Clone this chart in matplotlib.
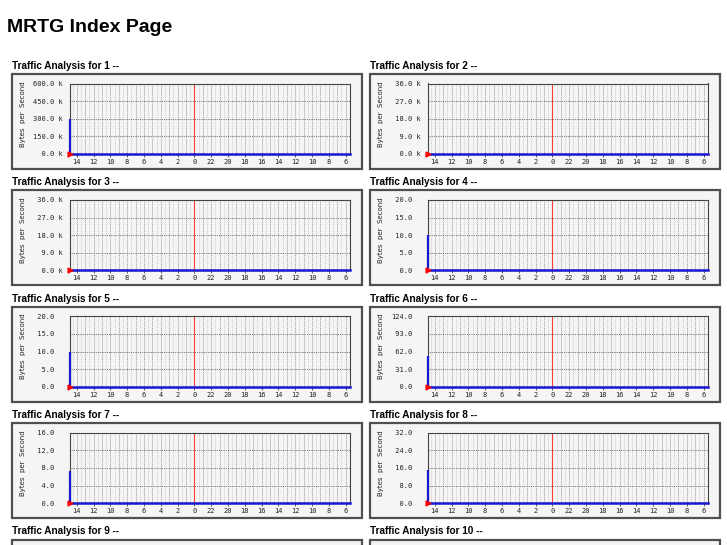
import matplotlib.pyplot as plt
from matplotlib.patches import Rectangle

# MRTG index page: 10 daily traffic graphs (only 1-8 fully visible)
panel_ids = [1, 2, 3, 4, 5, 6, 7, 8, 9, 10]
y_max = [600000, 36000, 36000, 20, 20, 124, 16, 32]
y_unit = ['k', 'k', 'k', '', '', '', '', '']
current_out = [300000, 0, 0, 10, 10, 54, 7.2, 15]   # bytes/s at "now"

hour_labels = ['14', '12', '10', '8', '6', '4', '2', '0', '22', '20',
               '18', '16', '14', '12', '10', '8', '6']
now_hour = 14.8          # clock time of the newest sample
x_span = 400 * 5 / 60    # 400 samples of 5 min

W, H = 727, 545
fig = plt.figure(figsize=(W / 100, H / 100), dpi=100)
fig.patch.set_facecolor('white')


def fx(px):
    return px / W


def fy(py):
    return 1 - py / H


fig.text(fx(7), fy(27), 'MRTG Index Page', fontsize=14, fontweight='bold',
         family='Liberation Sans', va='center')

mono = 'DejaVu Sans Mono'
tick_pos = [(now_hour - 14) + 2 * i for i in range(len(hour_labels))]
hour_lines = [(now_hour - 14) + k for k in range(33)]
half_lines = [(now_hour - 14) + k + 0.5 for k in range(-1, 33)]

for i, pid in enumerate(panel_ids):
    col, row = i % 2, i // 2
    bx = 12 + 358 * col
    by = 74 + 116.4 * row

    fig.text(fx(bx), fy(by - 8.3), f'Traffic Analysis for {pid} --',
             fontsize=7.2, fontweight='bold', family='Liberation Sans', va='center')
    fig.add_artist(Rectangle((fx(bx), fy(by + 95)), 350 / W, 95 / H,
                             transform=fig.transFigure, facecolor='#f5f5f5',
                             edgecolor='#505050', lw=1.6, zorder=-1))
    if i >= len(y_max):
        continue

    ax = fig.add_axes([fx(bx + 58), fy(by + 80), 280 / W, 70.5 / H])
    ax.set_facecolor('none')
    top = y_max[i]
    ax.set_xlim(0, x_span)
    ax.set_ylim(0, top)

    # grid
    for h in half_lines:
        if 0 < h < x_span:
            ax.axvline(h, color='#b8b8b8', lw=0.5, linestyle=(0, (1, 1.2)), zorder=1)
    for h in hour_lines:
        ax.axvline(h, color='#808080', lw=0.6, linestyle=(0, (1, 1.2)), zorder=1)
    for f in [0.25, 0.5, 0.75]:
        ax.axhline(top * f, color='#555555', lw=0.6, linestyle=(0, (1, 1.2)), zorder=1)
    ax.axvline(now_hour, color='#ff3a3a', lw=0.8, zorder=2)

    # traffic
    ax.axhline(0, color='#1818d0', lw=1.8, zorder=3, clip_on=False)
    ax.vlines(0, 0, current_out[i], color='#1818d0', lw=1.6, zorder=3, clip_on=False)
    ax.plot(0, 0, marker='>', color='red', ms=3.5, clip_on=False, zorder=4)

    yt = [top * f for f in [0, 0.25, 0.5, 0.75, 1]]
    if y_unit[i] == 'k':
        ylab = [f'{v / 1000:5.1f} k' for v in yt]
    else:
        ylab = [f'{v:5.1f}' for v in yt]
    ax.set_yticks(yt)
    ax.set_yticklabels(ylab, family=mono, fontsize=5, color='#222222')
    for t in ax.get_yticklabels():
        t.set_ha('left')
    ax.tick_params(axis='y', length=0, pad=26.6)

    ax.set_xticks(tick_pos)
    ax.set_xticklabels(hour_labels, family=mono, fontsize=5, color='#222222')
    ax.tick_params(axis='x', length=2, width=0.6, pad=1.5, color='#444444')

    for s in ax.spines.values():
        s.set_color('#444444')
        s.set_linewidth(0.8)

    ax.set_ylabel('Bytes  per  Second', fontsize=5, family='DejaVu Sans',
                  color='#222222', va='center')
    ax.yaxis.set_label_coords(-0.168, 0.57)

fig.savefig('out.png', dpi=100)
